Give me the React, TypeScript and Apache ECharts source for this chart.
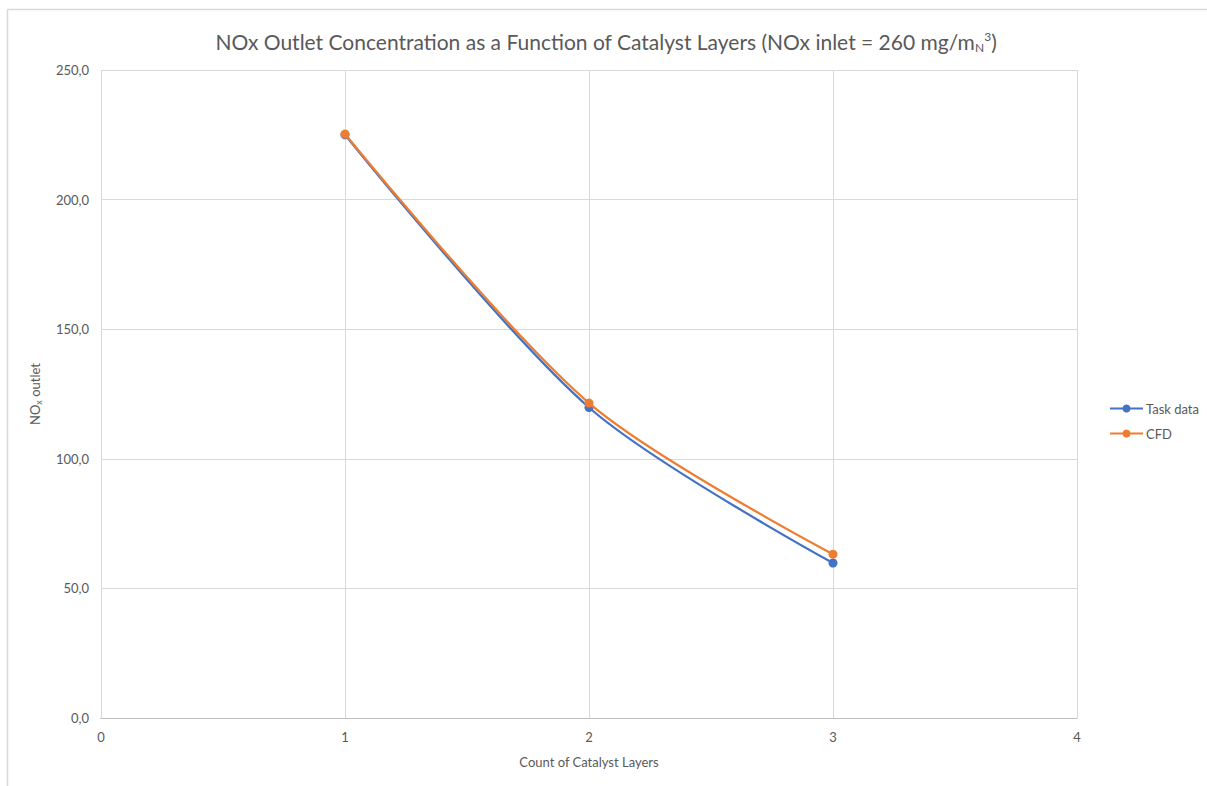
import React, { useEffect, useRef } from "react";
import * as echarts from "echarts";

// Number of catalyst layers and NOx outlet values (mg/m_N^3)
const layers = [1, 2, 3];
const taskData = [225.0, 119.8, 59.8];
const cfdData = [225.3, 121.5, 63.2];
const seriesNames = ["Task data", "CFD"];

const BLUE = "#4472C4";
const ORANGE = "#ED7D31";
const TEXT = "#595959";
const FONT = "Lato, 'Open Sans', sans-serif";

export default function App() {
  const ref = useRef<HTMLDivElement>(null);

  useEffect(() => {
    if (!ref.current) return;
    const chart = echarts.init(ref.current, undefined, { renderer: "svg" });

    const toPairs = (vals: number[]) => layers.map((x, i) => [x, vals[i]]);

    chart.setOption({
      animation: false,
      backgroundColor: "#ffffff",
      textStyle: { fontFamily: FONT },
      title: {
        text: "{t|NOx Outlet Concentration as a Function of Catalyst Layers (NOx inlet = 260 mg/m}{sub|N}{sup|3}{t|)}",
        left: 601,
        textAlign: "center",
        top: 25,
        textStyle: {
          fontWeight: "normal",
          rich: {
            t: { fontSize: 21, color: TEXT, fontFamily: FONT, fontWeight: "normal" },
            sub: { fontSize: 12, color: TEXT, fontFamily: FONT, fontWeight: "normal", verticalAlign: "bottom", padding: [11, 0, 0, 0] },
            sup: { fontSize: 12, color: TEXT, fontFamily: FONT, fontWeight: "normal", verticalAlign: "top", padding: [0, 0, 9, 0] },
          },
        },
      },
      grid: { left: 101, right: 130, top: 70, bottom: 68, containLabel: false },
      legend: {
        orient: "vertical",
        left: 1104,
        top: 397,
        itemGap: 12,
        itemWidth: 33,
        itemHeight: 10,
        data: seriesNames,
        textStyle: { color: TEXT, fontSize: 13, fontFamily: FONT, padding: [0, 0, 0, -2] },
      },
      xAxis: {
        type: "value",
        min: 0,
        max: 4,
        interval: 1,
        name: "Count of Catalyst Layers",
        nameLocation: "middle",
        nameGap: 37,
        nameTextStyle: { color: TEXT, fontSize: 13, fontFamily: FONT },
        axisLine: { show: true, lineStyle: { color: "#BFBFBF", width: 1 } },
        axisTick: { show: false },
        axisLabel: { color: TEXT, fontSize: 13, margin: 12, fontFamily: FONT },
        splitLine: { show: true, lineStyle: { color: "#D9D9D9", width: 1 } },
      },
      yAxis: {
        type: "value",
        min: 0,
        max: 250,
        interval: 50,
        name: "{t|NO}{sub|x}{t| outlet}",
        nameLocation: "middle",
        nameGap: 58,
        nameRotate: 90,
        nameTextStyle: {
          rich: {
            t: { color: TEXT, fontSize: 13, fontFamily: FONT },
            sub: { color: TEXT, fontSize: 9, fontFamily: FONT, verticalAlign: "bottom", padding: [7, 0, 0, 0] },
          },
        },
        axisLine: { show: false },
        axisTick: { show: false },
        axisLabel: {
          color: TEXT,
          fontSize: 13,
          margin: 12,
          fontFamily: FONT,
          formatter: (v: number) => v.toFixed(1).replace(".", ","),
        },
        splitLine: { show: true, lineStyle: { color: "#D9D9D9", width: 1 } },
      },
      series: [
        {
          name: seriesNames[0],
          type: "line",
          data: toPairs(taskData),
          smooth: 0.3,
          symbol: "circle",
          symbolSize: 9,
          lineStyle: { color: BLUE, width: 2.25 },
          itemStyle: { color: BLUE },
          z: 2,
        },
        {
          name: seriesNames[1],
          type: "line",
          data: toPairs(cfdData),
          smooth: 0.3,
          symbol: "circle",
          symbolSize: 9,
          lineStyle: { color: ORANGE, width: 2.25 },
          itemStyle: { color: ORANGE },
          z: 3,
        },
      ],
      graphic: [
        { type: "line", shape: { x1: 7.5, y1: 9.5, x2: 1207, y2: 9.5 }, style: { stroke: "#D9D9D9", lineWidth: 1.5 } },
        { type: "line", shape: { x1: 7.5, y1: 9.5, x2: 7.5, y2: 786 }, style: { stroke: "#D9D9D9", lineWidth: 1.5 } },
      ],
    });

    return () => chart.dispose();
  }, []);

  return (
    <div
      ref={ref}
      style={{ position: "absolute", left: 0, top: 0, width: 1207, height: 786 }}
    />
  );
}
